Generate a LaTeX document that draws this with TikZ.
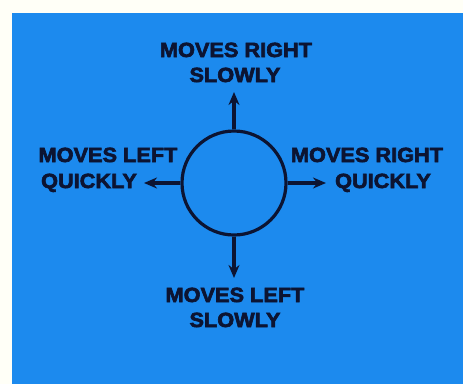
\documentclass[tikz,border=0pt]{standalone}
\usepackage{fontspec}
\newfontfamily\labfont{Liberation Sans Bold}[FakeStretch=1.06, FakeBold=3]
\usetikzlibrary{arrows.meta}
\definecolor{bgblue}{RGB}{28,138,238}
\definecolor{ink}{RGB}{12,20,50}
\tikzset{
  lab/.style={font=\labfont\fontsize{20.5}{20.5}\selectfont, text=ink, inner sep=0pt, anchor=base},
  arr/.style={draw=ink, line width=3.4pt, -{Stealth[length=13pt,width=11pt]}},
}
\begin{document}
\begin{tikzpicture}[x=1pt,y=-1pt]
\useasboundingbox (0,0) rectangle (463,384);
\fill[white!97!yellow] (0,0) rectangle (463,384);
\fill[bgblue] (12,13) rectangle (463,384);
\node[draw=ink, line width=3.2pt, circle, minimum size=104pt, inner sep=0pt] (c) at (234,183) {};
% top
\node[lab] (t1) at (236,57) {MOVES RIGHT};
\node[lab] (t2) at (235,82) {SLOWLY};
% left
\node[lab] (l1) at (108,162) {MOVES LEFT};
\node[lab] (l2) at (89,188) {QUICKLY};
% right
\node[lab] (r1) at (367,162) {MOVES RIGHT};
\node[lab] (r2) at (383,188) {QUICKLY};
% bottom
\node[lab] (b1) at (235,302) {MOVES LEFT};
\node[lab] (b2) at (235,327) {SLOWLY};
\coordinate (tu) at (234,92);
\coordinate (td) at (234,278);
\coordinate (tl) at (144,183);
\coordinate (tr) at (326,183);
\draw[arr] (c.north) -- (tu);
\draw[arr] (c.south) -- (td);
\draw[arr] (c.west) -- (tl);
\draw[arr] (c.east) -- (tr);
\end{tikzpicture}
\end{document}
